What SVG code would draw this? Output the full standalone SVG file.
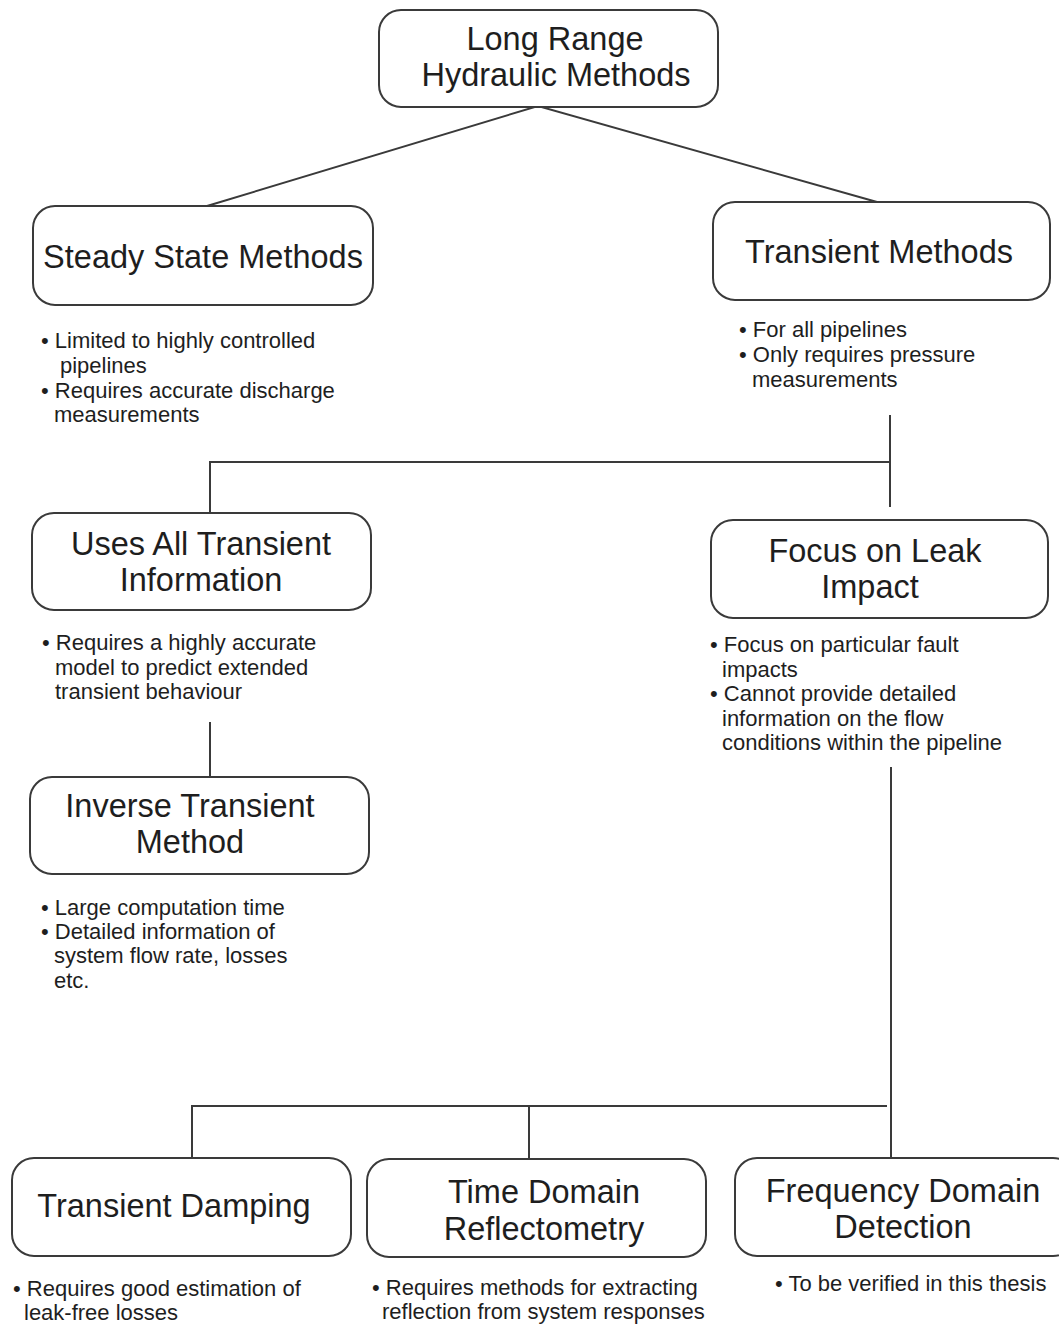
<svg xmlns="http://www.w3.org/2000/svg" width="1059" height="1324" viewBox="0 0 1059 1324">
<style>
.box{fill:#fff;stroke:#3a3a3a;stroke-width:2}
.t{font-family:"Liberation Sans",Arial,sans-serif;font-size:32.5px;fill:#1e1e1e;text-anchor:middle}
.b{font-family:"Liberation Sans",Arial,sans-serif;font-size:22px;fill:#1e1e1e}
.c{fill:none;stroke:#3a3a3a;stroke-width:2}
</style>
<rect width="1059" height="1324" fill="#fff"/>
<g id="connectors">
<polyline class="c" points="207,206 538,106 877,202"/>
<line class="c" x1="890" y1="415" x2="890" y2="507"/>
<polyline class="c" points="890,462 210,462 210,512"/>
<line class="c" x1="210" y1="722" x2="210" y2="777"/>
<line class="c" x1="891" y1="767" x2="891" y2="1158"/>
<polyline class="c" points="887,1106 192,1106 192,1158"/>
<line class="c" x1="529" y1="1106" x2="529" y2="1159"/>
</g>
<g id="long-range">
<rect class="box" x="379" y="10" width="339" height="97" rx="22"/>
<text class="t" x="555" y="50">Long Range</text>
<text class="t" x="556" y="86">Hydraulic Methods</text>
</g>
<g id="steady-state">
<rect class="box" x="33" y="206" width="340" height="99" rx="22"/>
<text class="t" x="203" y="268">Steady State Methods</text>
<text class="b"><tspan x="41" y="348">• Limited to highly controlled</tspan><tspan x="60" y="373">pipelines</tspan><tspan x="41" y="398">• Requires accurate discharge</tspan><tspan x="54" y="422">measurements</tspan></text>
</g>
<g id="transient-methods">
<rect class="box" x="713" y="202" width="337" height="98" rx="22"/>
<text class="t" x="879" y="263">Transient Methods</text>
<text class="b"><tspan x="739" y="337">• For all pipelines</tspan><tspan x="739" y="362">• Only requires pressure</tspan><tspan x="752" y="387">measurements</tspan></text>
</g>
<g id="uses-all">
<rect class="box" x="32" y="513" width="339" height="97" rx="22"/>
<text class="t" x="201" y="555">Uses All Transient</text>
<text class="t" x="201" y="591">Information</text>
<text class="b"><tspan x="42" y="650">• Requires a highly accurate</tspan><tspan x="55" y="675">model to predict extended</tspan><tspan x="55" y="699">transient behaviour</tspan></text>
</g>
<g id="focus-leak">
<rect class="box" x="711" y="520" width="337" height="98" rx="22"/>
<text class="t" x="875" y="562">Focus on Leak</text>
<text class="t" x="870" y="598">Impact</text>
<text class="b"><tspan x="710" y="652">• Focus on particular fault</tspan><tspan x="722" y="677">impacts</tspan><tspan x="710" y="701">• Cannot provide detailed</tspan><tspan x="722" y="726">information on the flow</tspan><tspan x="722" y="750">conditions within the pipeline</tspan></text>
</g>
<g id="inverse-transient">
<rect class="box" x="30" y="777" width="339" height="97" rx="22"/>
<text class="t" x="190" y="817">Inverse Transient</text>
<text class="t" x="190" y="853">Method</text>
<text class="b"><tspan x="41" y="915">• Large computation time</tspan><tspan x="41" y="939">• Detailed information of</tspan><tspan x="54" y="963">system flow rate, losses</tspan><tspan x="54" y="988">etc.</tspan></text>
</g>
<g id="transient-damping">
<rect class="box" x="12" y="1158" width="339" height="98" rx="22"/>
<text class="t" x="174" y="1217">Transient Damping</text>
<text class="b"><tspan x="13" y="1296">• Requires good estimation of</tspan><tspan x="24" y="1320">leak-free losses</tspan></text>
</g>
<g id="time-domain">
<rect class="box" x="367" y="1159" width="339" height="98" rx="22"/>
<text class="t" x="544" y="1203">Time Domain</text>
<text class="t" x="544" y="1240">Reflectometry</text>
<text class="b"><tspan x="372" y="1295">• Requires methods for extracting</tspan><tspan x="382" y="1319">reflection from system responses</tspan></text>
</g>
<g id="frequency-domain">
<rect class="box" x="735" y="1158" width="340" height="98" rx="22"/>
<text class="t" x="903" y="1202">Frequency Domain</text>
<text class="t" x="903" y="1238">Detection</text>
<text class="b"><tspan x="775" y="1291">• To be verified in this thesis</tspan></text>
</g>
</svg>
